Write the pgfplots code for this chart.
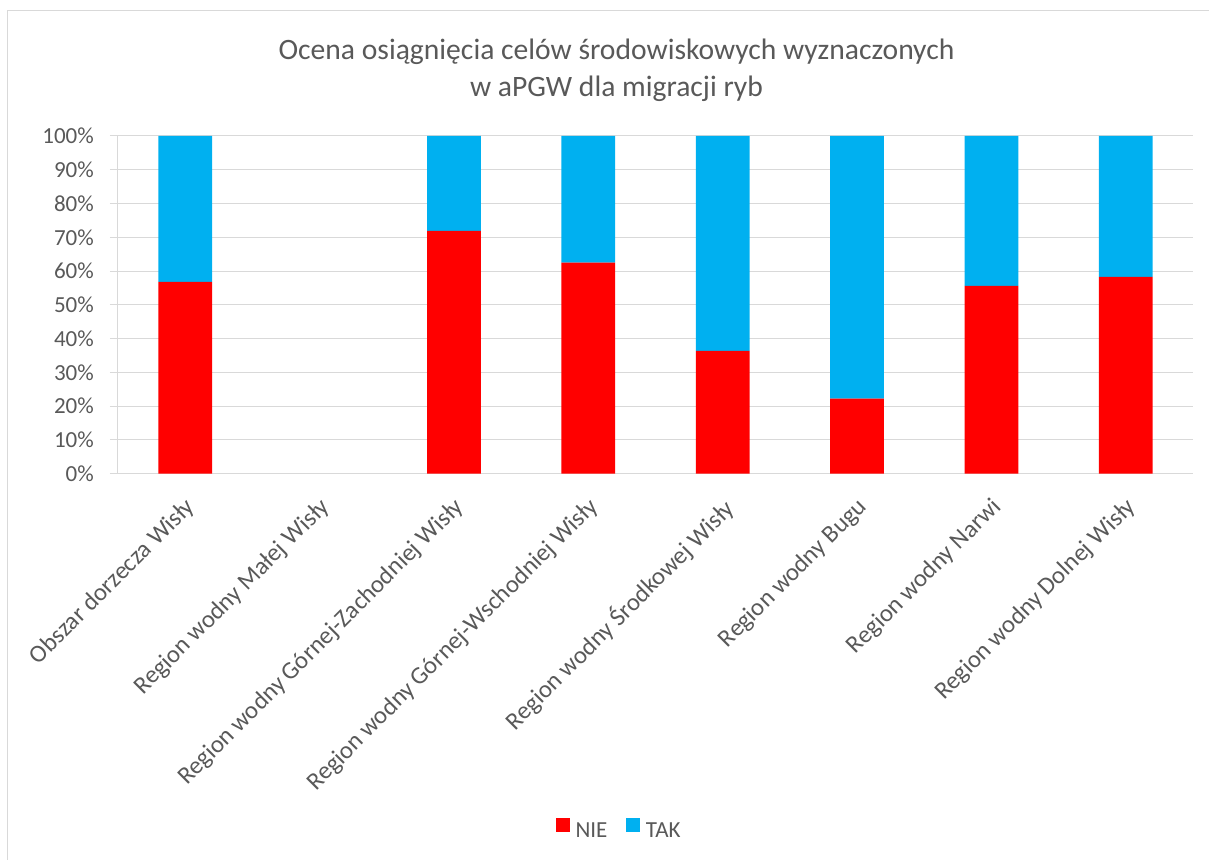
\documentclass[border=0pt]{standalone}
\usepackage{pgfplots}
\pgfplotsset{compat=1.18}
\usepackage{fontspec}
\setmainfont{Carlito}
\definecolor{txt}{HTML}{595959}
\definecolor{gridc}{HTML}{D9D9D9}
\definecolor{nie}{HTML}{FF0000}
\definecolor{tak}{HTML}{00B0F0}
\begin{document}
\begin{tikzpicture}[x=1pt,y=1pt]
\useasboundingbox (-118,-385.3) rectangle (1091,473.7);
\draw[gridc, line width=1pt] (-110.5,-386) -- (-110.5,462.7) -- (1092,462.7);
\node[anchor=base, text=txt, font=\fontsize{29.6}{35}\selectfont, inner sep=0pt] at (498.5,414.2) {Ocena osiągnięcia celów środowiskowych wyznaczonych};
\node[anchor=base, text=txt, font=\fontsize{29.6}{35}\selectfont, inner sep=0pt] at (498.5,377.2) {w aPGW dla migracji ryb};
\begin{axis}[
  at={(0,0)}, anchor=south west,
  scale only axis, width=1075pt, height=337.7pt,
  xmin=-0.5, xmax=7.5, ymin=0, ymax=100,
  ybar stacked, bar width=0.4,
  xtick={0,...,7},
  xticklabels={Obszar dorzecza Wisły, Region wodny Małej Wisły, Region wodny Górnej-Zachodniej Wisły, Region wodny Górnej-Wschodniej Wisły, Region wodny Środkowej Wisły, Region wodny Bugu, Region wodny Narwi, Region wodny Dolnej Wisły},
  x tick style={draw=none},
  ytick={0,10,...,100},
  yticklabel={\pgfmathprintnumber{\tick}\%},
  ymajorgrids, grid style={gridc, line width=1pt},
  axis x line*=bottom, axis y line*=left,
  axis line style={gridc, line width=1pt, -},
  y tick style={gridc, line width=1pt},
  tick align=outside, major tick length=8pt,
  ticklabel style={text=txt, font=\fontsize{23}{27}\selectfont},
  xticklabel style={rotate=45, anchor=north east, inner sep=0pt, xshift=-11pt, yshift=-9pt, font=\fontsize{24.7}{29}\selectfont},
  yticklabel style={inner sep=0pt, xshift=-16pt},
  /pgf/number format/assume math mode=true,
  legend style={at={(0.4661,-1.0536)}, anchor=center, draw=none, legend columns=2,
    font=\fontsize{23}{27}\selectfont, text=txt,
    /tikz/every even column/.append style={column sep=16.5pt}},
  legend image code/.code={\fill[#1] (0pt,-0.5pt) rectangle (14pt,13.5pt); \path (18pt,0pt);},
]
\addplot[fill=nie, draw=none] coordinates {(0,56.8) (2,71.9) (3,62.5) (4,36.4) (5,22.2) (6,55.6) (7,58.3)};
\addplot[fill=tak, draw=none] coordinates {(0,43.2) (2,28.1) (3,37.5) (4,63.6) (5,77.8) (6,44.4) (7,41.7)};
\legend{NIE, TAK}
\end{axis}
\end{tikzpicture}
\end{document}
